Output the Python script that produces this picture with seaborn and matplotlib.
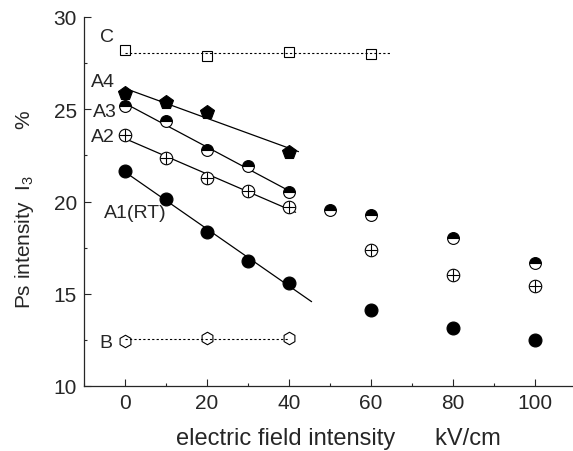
import numpy as np
import pandas as pd
import matplotlib
matplotlib.use("Agg")
import matplotlib.pyplot as plt
from matplotlib.ticker import MultipleLocator
import seaborn as sns

# data
x_c = [0, 20, 40, 60]
y_c = [28.2, 27.9, 28.1, 28.0]

x_a4 = [0, 10, 20, 40]
y_a4 = [25.9, 25.4, 24.85, 22.7]

x_a3 = [0, 10, 20, 30, 40, 50, 60, 80, 100]
y_a3 = [25.2, 24.35, 22.8, 21.9, 20.5, 19.55, 19.27, 18.0, 16.65]

x_a2 = [0, 10, 20, 30, 40, 60, 80, 100]
y_a2 = [23.6, 22.35, 21.25, 20.55, 19.7, 17.35, 16.0, 15.4]

x_a1 = [0, 10, 20, 30, 40, 60, 80, 100]
y_a1 = [21.65, 20.15, 18.35, 16.8, 15.6, 14.1, 13.15, 12.5]

x_b = [0, 20, 40]
y_b = [12.45, 12.6, 12.6]

x_ticks = [0, 20, 40, 60, 80, 100]
y_ticks = [10, 15, 20, 25, 30]

sns.set_style("ticks")
plt.rcParams['font.family'] = ['Liberation Sans', 'DejaVu Sans']
plt.rcParams['mathtext.default'] = 'regular'

fig = plt.figure(figsize=(5.73, 4.52), dpi=100)
ax = fig.add_axes([84 / 573, 1 - 387 / 452, 488 / 573, 369 / 452])

# fitted lines over the low-field points (x <= 40)
fit_ends = {"A4": (x_a4, y_a4, 42.3), "A3": (x_a3, y_a3, 41.0),
            "A2": (x_a2, y_a2, 41.6), "A1": (x_a1, y_a1, 45.5)}
for name, (xs, ys, x_end) in fit_ends.items():
    xs = np.array(xs)
    ys = np.array(ys)
    m = xs <= 40
    k, b = np.polyfit(xs[m], ys[m], 1)
    line = pd.DataFrame({"x": [0, x_end], "y": [b, b + k * x_end]})
    sns.lineplot(data=line, x="x", y="y", ax=ax, color="black", lw=0.9,
                 errorbar=None, sort=False)

# dotted reference levels for C and B
for xs, ys, x_end in [(x_c, y_c, 64.6), (x_b, y_b, 40)]:
    level = np.mean(ys)
    line = pd.DataFrame({"x": [0, x_end], "y": [level, level]})
    sns.lineplot(data=line, x="x", y="y", ax=ax, color="black", lw=0.8,
                 linestyle=(0, (2, 2)), errorbar=None, sort=False)

common = dict(ax=ax, color="black", linestyle="", errorbar=None, sort=False,
              markeredgecolor="black", markeredgewidth=0.8)

sns.lineplot(x=x_c, y=y_c, marker="s", markersize=7, markerfacecolor="none", **common)
sns.lineplot(x=x_b, y=y_b, marker="h", markersize=9, markerfacecolor="none", **common)
sns.lineplot(x=x_a4, y=y_a4, marker="p", markersize=10, markerfacecolor="black", **common)
sns.lineplot(x=x_a3, y=y_a3, marker="o", markersize=8.5, fillstyle="top",
             markerfacecolor="black", markerfacecoloralt="white", **common)
sns.lineplot(x=x_a2, y=y_a2, marker="o", markersize=9, markerfacecolor="white", **common)
sns.lineplot(x=x_a2, y=y_a2, marker="+", markersize=9, **common)
sns.lineplot(x=x_a1, y=y_a1, marker="o", markersize=9.3, markerfacecolor="black", **common)

# series labels
labels = [("C", -4.4, 28.97), ("A4", -5.4, 26.48), ("A3", -4.9, 24.9),
          ("A2", -5.4, 23.55), ("A1(RT)", 2.4, 19.43), ("B", -4.6, 12.38)]
for txt, lx, ly in labels:
    ax.text(lx, ly, txt, fontsize=14, ha="center", va="center")

ax.set_xlim(-10, 109)
ax.set_ylim(10, 30)
ax.set_xticks(x_ticks)
ax.set_yticks(y_ticks)
ax.xaxis.set_minor_locator(MultipleLocator(10))
ax.yaxis.set_minor_locator(MultipleLocator(2.5))
ax.tick_params(which="both", direction="in", width=0.8, labelsize=15, pad=5)
ax.tick_params(which="major", length=5)
ax.tick_params(which="minor", length=2.5)
for s in ["left", "bottom"]:
    ax.spines[s].set_linewidth(0.9)
sns.despine(ax=ax)

ax.set_xlabel("electric field intensity      kV/cm", fontsize=17)
ax.xaxis.set_label_coords(0.5215, -0.11)
ax.set_ylabel("Ps intensity  I$_3$        %", fontsize=15)
ax.yaxis.label.set_verticalalignment("center")
ax.yaxis.set_label_coords(-0.122, 0.482)

fig.savefig("out.png", dpi=100)
